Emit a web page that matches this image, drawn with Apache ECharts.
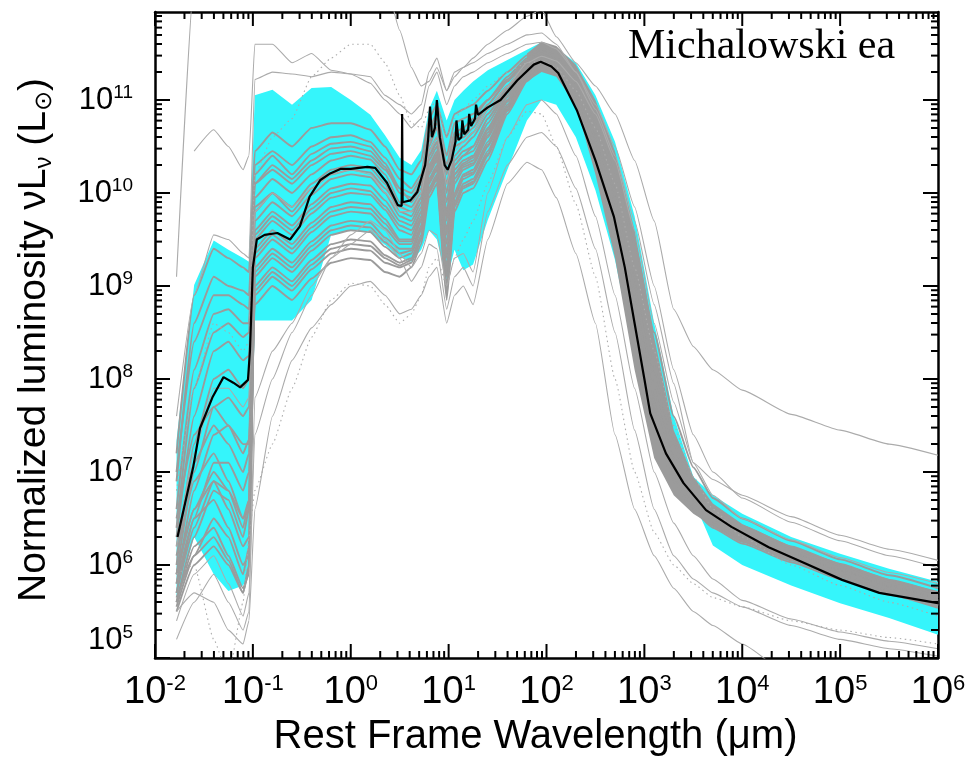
<!DOCTYPE html>
<html>
<head>
<meta charset="utf-8">
<title>Normalized SEDs</title>
<script src="https://cdn.jsdelivr.net/npm/echarts@6.0.0/dist/echarts.min.js"></script>
<style>
  html, body { margin: 0; padding: 0; background: #fff; }
  #chart { width: 976px; height: 762px; }
</style>
</head>
<body>
<div id="chart"></div>
<script>
// ---------------------------------------------------------------------------
// Values are stored as log10: wavelength in micron, luminosity in L_sun.
// ---------------------------------------------------------------------------

// Axis ranges (real units) and decade labels
const xRange = [0.01, 1e6];
const yRange = [1e5, 8.83e11];
const xTickExp = [-2, -1, 0, 1, 2, 3, 4, 5, 6];
const yTickExp = [5, 6, 7, 8, 9, 10, 11];

// Shared wavelength grid for the individual SED curves
const logLam = [-1.78, -1.6, -1.4, -1.25, -1.1, -1.04,
  -0.98, -0.8, -0.6, -0.4, -0.2, 0.0, 0.2, 0.35,
  0.5, 0.62, 0.72, 0.8, 0.88, 0.98, 1.06, 1.15, 1.25, 1.4,
  1.6, 1.8, 1.95, 2.1, 2.3, 2.5, 2.7, 2.9,
  3.1, 3.3, 3.5, 3.7, 4.0, 4.5, 5.0, 5.5, 6.0];

// Envelope of the template family (cyan)
const cyanUp = [7.34, 9.01, 9.49, 9.39, 9.30, 9.26,
  11.05, 11.11, 10.95, 11.13, 11.14, 11.0, 10.84, 10.62,
  10.38, 10.3, 10.46, 10.9, 11.1, 10.78, 11.0, 11.1, 11.2, 11.32,
  11.43, 11.54, 11.62, 11.56, 11.4, 11.05, 10.55, 9.75,
  8.6, 7.6, 6.95, 6.75, 6.55, 6.3, 6.12, 5.96, 5.82];
const cyanLow = [5.65, 6.3, 5.9, 5.72, 5.78, 5.9,
  8.63, 8.63, 8.63, 8.85, 9.55, 9.6, 9.57, 9.44,
  9.31, 9.26, 9.39, 9.6, 9.5, 9.06, 9.39, 9.17, 9.23, 9.71,
  10.25, 10.78, 11.0, 10.95, 10.6, 10.03, 9.28, 8.26,
  7.45, 6.97, 6.7, 6.21, 6.0, 5.78, 5.59, 5.43, 5.25];

// Dense core of the individual fits in the far-IR / radio
const coreLam = [1.8, 1.95, 2.1, 2.3, 2.5, 2.7, 2.9, 3.1, 3.3, 3.5, 3.7, 4.0, 4.5, 5.0, 5.5, 6.0];
const coreUp  = [11.5, 11.63, 11.58, 11.38, 11.0, 10.45, 9.6, 8.45, 7.45, 6.95, 6.66, 6.44, 6.2, 6.02, 5.85, 5.72];
const coreLow = [11.2, 11.3, 11.25, 10.95, 10.2, 9.3, 8.1, 7.15, 6.75, 6.55, 6.42, 6.26, 6.06, 5.87, 5.71, 5.56];

// Individual galaxy SEDs on logLam
const sed01 = [7.2, 8.9, 9.4, 9.3, 9.2, 9.15, 10.45, 10.65, 10.5, 10.7, 10.75, 10.75, 10.68, 10.5, 10.25, 10.2, 10.35, 10.8, 10.95, 10.6, 10.85, 10.9, 10.95, 11.1, 11.3, 11.48, 11.55, 11.5, 11.25, 10.85, 10.2, 9.45, 8.5, 7.6, 7.05, 6.72, 6.5, 6.26, 6.06, 5.89, 5.75];
const sed02 = [6.9, 8.6, 9.1, 9.0, 8.95, 8.9, 10.3, 10.45, 10.3, 10.5, 10.6, 10.62, 10.55, 10.38, 10.15, 10.05, 10.2, 10.7, 10.85, 10.4, 10.75, 10.8, 10.85, 11.0, 11.25, 11.45, 11.52, 11.45, 11.2, 10.75, 10.05, 9.2, 8.2, 7.4, 6.9, 6.62, 6.42, 6.2, 6.01, 5.84, 5.7];
const sed03 = [6.6, 8.1, 8.7, 8.75, 8.6, 8.6, 10.1, 10.3, 10.15, 10.35, 10.48, 10.5, 10.45, 10.28, 10.0, 9.95, 10.1, 10.6, 10.75, 10.2, 10.6, 10.65, 10.75, 10.95, 11.2, 11.42, 11.5, 11.42, 11.15, 10.7, 9.95, 9.05, 8.05, 7.3, 6.85, 6.6, 6.4, 6.18, 5.98, 5.8, 5.66];
const sed04 = [6.3, 7.6, 8.3, 8.4, 8.2, 8.25, 9.95, 10.15, 10.0, 10.2, 10.35, 10.4, 10.36, 10.2, 9.9, 9.85, 10.0, 10.5, 10.7, 10.1, 10.5, 10.55, 10.65, 10.9, 11.15, 11.4, 11.48, 11.4, 11.1, 10.6, 9.85, 8.9, 7.9, 7.15, 6.75, 6.53, 6.35, 6.14, 5.95, 5.78, 5.64];
const sed05 = [6.0, 7.3, 8.0, 8.1, 7.9, 8.0, 9.85, 10.0, 9.85, 10.1, 10.25, 10.3, 10.27, 10.1, 9.8, 9.75, 9.95, 10.45, 10.6, 9.9, 10.4, 10.5, 10.6, 10.85, 11.12, 11.38, 11.46, 11.38, 11.05, 10.5, 9.7, 8.7, 7.7, 7.05, 6.7, 6.5, 6.32, 6.12, 5.93, 5.76, 5.62];
const sed06 = [5.9, 7.0, 7.7, 7.8, 7.6, 7.7, 9.7, 9.9, 9.75, 9.98, 10.15, 10.2, 10.17, 10.0, 9.75, 9.7, 9.9, 10.4, 10.55, 9.8, 10.35, 10.45, 10.5, 10.8, 11.1, 11.36, 11.45, 11.38, 11.08, 10.55, 9.75, 8.75, 7.75, 7.05, 6.68, 6.48, 6.3, 6.1, 5.91, 5.74, 5.6];
const sed07 = [5.8, 6.8, 7.4, 7.5, 7.2, 7.35, 9.6, 9.8, 9.65, 9.88, 10.05, 10.1, 10.08, 9.92, 9.7, 9.65, 9.85, 10.35, 10.5, 9.75, 10.3, 10.4, 10.45, 10.75, 11.08, 11.35, 11.44, 11.38, 11.1, 10.6, 9.85, 8.9, 7.9, 7.15, 6.75, 6.52, 6.33, 6.12, 5.93, 5.76, 5.62];
const sed08 = [5.7, 6.5, 7.1, 7.1, 6.8, 7.0, 9.5, 9.7, 9.55, 9.78, 9.95, 10.0, 9.98, 9.82, 9.6, 9.55, 9.8, 10.3, 10.45, 9.6, 10.25, 10.35, 10.4, 10.7, 11.05, 11.33, 11.43, 11.36, 11.05, 10.5, 9.7, 8.7, 7.7, 7.0, 6.66, 6.46, 6.28, 6.08, 5.89, 5.72, 5.58];
const sed09 = [5.6, 6.3, 6.8, 6.7, 6.3, 6.6, 9.4, 9.6, 9.45, 9.68, 9.85, 9.9, 9.88, 9.72, 9.5, 9.5, 9.75, 10.25, 10.4, 9.45, 10.2, 10.3, 10.35, 10.65, 11.0, 11.3, 11.42, 11.36, 11.08, 10.6, 9.85, 8.95, 7.95, 7.2, 6.8, 6.56, 6.36, 6.15, 5.96, 5.79, 5.65];
const sed10 = [5.55, 6.1, 6.5, 6.3, 5.9, 6.2, 9.3, 9.5, 9.35, 9.58, 9.75, 9.8, 9.78, 9.62, 9.45, 9.45, 9.7, 10.2, 10.35, 9.3, 10.1, 10.25, 10.3, 10.6, 10.98, 11.28, 11.4, 11.33, 11.02, 10.45, 9.6, 8.55, 7.6, 6.95, 6.62, 6.43, 6.26, 6.06, 5.88, 5.71, 5.57];
const sed11 = [5.5, 6.0, 6.2, 6.0, 5.7, 6.0, 9.2, 9.4, 9.25, 9.48, 9.65, 9.7, 9.68, 9.52, 9.4, 9.4, 9.65, 10.15, 10.3, 9.2, 10.0, 10.2, 10.25, 10.55, 10.95, 11.27, 11.4, 11.35, 11.06, 10.55, 9.75, 8.8, 7.8, 7.1, 6.72, 6.5, 6.32, 6.11, 5.92, 5.75, 5.61];
const sed12 = [5.6, 6.2, 6.4, 6.1, 5.75, 5.9, 9.1, 9.3, 9.15, 9.38, 9.55, 9.6, 9.58, 9.42, 9.3, 9.35, 9.6, 10.1, 10.25, 9.1, 9.95, 10.15, 10.2, 10.5, 10.92, 11.25, 11.38, 11.3, 10.98, 10.4, 9.55, 8.5, 7.55, 6.93, 6.6, 6.42, 6.25, 6.05, 5.87, 5.7, 5.56];
const sed13 = [5.8, 6.5, 6.7, 6.4, 6.0, 6.1, 9.0, 9.2, 9.05, 9.28, 9.45, 9.5, 9.48, 9.33, 9.25, 9.3, 9.55, 10.05, 10.2, 9.0, 9.9, 10.1, 10.15, 10.45, 10.9, 11.23, 11.37, 11.32, 11.04, 10.5, 9.7, 8.75, 7.75, 7.05, 6.7, 6.48, 6.3, 6.09, 5.9, 5.73, 5.59];
const sed14 = [6.1, 6.9, 7.2, 6.9, 6.5, 6.6, 8.9, 9.1, 8.95, 9.18, 9.35, 9.4, 9.38, 9.25, 9.2, 9.25, 9.5, 10.0, 10.15, 8.9, 9.85, 10.05, 10.1, 10.4, 10.88, 11.22, 11.36, 11.28, 10.95, 10.38, 9.5, 8.45, 7.5, 6.9, 6.58, 6.4, 6.23, 6.03, 5.85, 5.68, 5.54];
const sed15 = [6.5, 7.4, 7.7, 7.5, 7.3, 7.3, 8.8, 9.0, 8.85, 9.08, 9.25, 9.3, 9.28, 9.15, 9.1, 9.2, 9.45, 9.95, 10.1, 8.85, 9.8, 10.0, 10.05, 10.35, 10.85, 11.2, 11.35, 11.3, 11.0, 10.45, 9.65, 8.65, 7.65, 7.0, 6.66, 6.45, 6.28, 6.07, 5.88, 5.71, 5.57];
const sed16 = [7.0, 8.4, 8.9, 8.9, 8.8, 8.75, 10.1, 10.25, 10.1, 10.3, 10.42, 10.45, 10.4, 10.25, 10.05, 10.0, 10.15, 10.65, 10.8, 10.3, 10.65, 10.7, 10.8, 11.0, 11.22, 11.43, 11.52, 11.46, 11.18, 10.72, 10.0, 9.1, 8.1, 7.35, 6.88, 6.6, 6.4, 6.18, 5.99, 5.82, 5.68];
const sed17 = [6.4, 7.9, 8.5, 8.6, 8.45, 8.5, 10.2, 10.4, 10.2, 10.42, 10.53, 10.55, 10.5, 10.32, 10.05, 9.9, 10.05, 10.55, 10.7, 10.0, 10.55, 10.6, 10.7, 10.95, 11.2, 11.42, 11.5, 11.42, 11.15, 10.65, 9.9, 8.95, 7.95, 7.2, 6.8, 6.56, 6.37, 6.16, 5.97, 5.8, 5.66];
const sed18 = [6.2, 7.1, 7.5, 7.3, 7.0, 7.2, 9.8, 10.0, 9.8, 10.05, 10.2, 10.25, 10.22, 10.05, 9.85, 9.8, 9.95, 10.4, 10.55, 9.7, 10.3, 10.4, 10.5, 10.8, 11.1, 11.37, 11.45, 11.37, 11.06, 10.52, 9.72, 8.72, 7.72, 7.03, 6.68, 6.48, 6.3, 6.1, 5.91, 5.74, 5.6];
const sed19 = [5.9, 6.6, 7.0, 6.8, 6.4, 6.7, 9.55, 9.75, 9.6, 9.83, 10.0, 10.05, 10.02, 9.86, 9.65, 9.6, 9.8, 10.28, 10.42, 9.55, 10.2, 10.32, 10.38, 10.68, 11.03, 11.32, 11.42, 11.35, 11.05, 10.52, 9.72, 8.72, 7.72, 7.02, 6.67, 6.47, 6.29, 6.09, 5.9, 5.73, 5.59];
const sed20 = [5.7, 6.4, 6.9, 6.8, 6.5, 6.7, 9.35, 9.55, 9.4, 9.63, 9.8, 9.85, 9.83, 9.67, 9.48, 9.48, 9.72, 10.22, 10.37, 9.35, 10.15, 10.28, 10.32, 10.62, 10.99, 11.29, 11.41, 11.35, 11.06, 10.55, 9.78, 8.82, 7.82, 7.1, 6.72, 6.5, 6.32, 6.11, 5.92, 5.75, 5.61];
const sed21 = [5.65, 6.1, 6.3, 6.05, 5.7, 5.95, 9.15, 9.35, 9.2, 9.43, 9.6, 9.65, 9.63, 9.47, 9.35, 9.38, 9.62, 10.12, 10.27, 9.15, 9.98, 10.18, 10.22, 10.52, 10.93, 11.26, 11.39, 11.32, 11.0, 10.42, 9.58, 8.55, 7.6, 6.95, 6.62, 6.43, 6.26, 6.06, 5.88, 5.71, 5.57];
const sed22 = [5.9, 6.6, 6.9, 6.6, 6.2, 6.3, 8.95, 9.15, 9.0, 9.23, 9.4, 9.45, 9.43, 9.3, 9.22, 9.28, 9.52, 10.02, 10.17, 8.95, 9.87, 10.07, 10.12, 10.42, 10.89, 11.22, 11.36, 11.3, 11.0, 10.45, 9.62, 8.6, 7.62, 6.97, 6.64, 6.44, 6.27, 6.06, 5.87, 5.7, 5.56];

// Fits lying outside the main family
const sedHigh1 = [9.1, 12.3, 12.5, 12.5, 12.5, 12.5, 12.5, 12.5, 12.5, 12.5, 12.5, 12.5, 12.5, 12.3, 11.75, 11.35, 11.15, 11.2, 11.35, 11.1, 11.25, 11.35, 11.45, 11.6, 11.75, 11.9, 11.97, 11.68, 11.4, 11.15, 10.85, 10.35, 9.7, 8.75, 8.35, 8.1, 7.88, 7.62, 7.45, 7.3, 7.18];
const sedHigh2 = [6.2, 7.2, 7.9, 7.9, 7.7, 7.8, 9.8, 10.0, 9.85, 10.05, 10.2, 10.25, 10.2, 10.0, 9.8, 9.8, 10.0, 10.45, 10.6, 10.1, 10.45, 10.55, 10.65, 10.9, 11.15, 11.4, 11.47, 11.42, 11.2, 10.85, 10.35, 9.6, 8.6, 7.75, 7.1, 6.92, 6.75, 6.52, 6.32, 6.17, 6.05];
const sedHigh3 = [null, 10.45, 10.68, 10.5, 10.25, 10.4, 11.6, 11.6, 11.4, 11.5, 11.32, 11.28, 11.25, 11.05, 10.95, 10.85, 10.95, 11.3, 11.45, 11.1, 11.3, 11.35, 11.4, 11.5, 11.6, 11.7, 11.72, 11.6, 11.3, 10.9, 10.4, 9.7, 8.8, 7.95, 7.1, 6.75, 6.5, 6.27, 6.08, 5.92, 5.8];
const sedHigh4 = [7.6, 8.9, 9.55, 9.5, 9.35, 9.3, 11.22, 11.3, 11.28, 11.25, 11.3, 11.28, 11.18, 11.0, 10.85, 10.7, 10.8, 11.15, 11.3, 10.95, 11.15, 11.25, 11.3, 11.4, 11.5, 11.6, 11.62, 11.55, 11.3, 10.95, 10.5, 9.85, 9.0, 8.1, 7.4, 7.0, 6.72, 6.46, 6.26, 6.1, 5.97];
const sedLow1 = [5.5, 5.7, 5.6, 5.3, 5.15, 5.4, 6.6, 7.6, 8.2, 8.55, 8.8, 9.0, 9.05, 8.9, 8.7, 8.75, 8.9, 9.1, 9.2, 8.6, 8.9, 9.0, 8.8, 9.5, 10.1, 10.33, 10.25, 9.95, 9.35, 8.6, 7.4, 6.6, 6.1, 5.75, 5.5, 5.35, 5.15, 4.8, 4.6, 4.5, 4.4];
const sedLow2 = [5.2, 5.6, 5.9, 5.6, 5.3, 5.5, 7.8, 8.3, 8.6, 9.0, 9.3, 9.45, 9.6, 9.5, 9.3, 9.05, 9.2, 9.45, 9.4, 8.75, 9.1, 9.2, 9.0, 9.8, 10.3, 10.6, 10.65, 10.5, 10.05, 9.4, 8.5, 7.45, 6.6, 6.1, 5.85, 5.7, 5.55, 5.35, 5.2, 5.1, 5.02];
const sedLow3 = [5.4, 5.9, 6.1, 5.8, 5.45, 5.7, 7.4, 8.0, 8.5, 8.9, 9.3, 9.55, 9.7, 9.6, 9.35, 9.2, 9.35, 9.6, 9.55, 9.0, 9.3, 9.35, 9.15, 10.0, 10.6, 10.95, 11.0, 10.85, 10.4, 9.75, 8.9, 7.9, 7.0, 6.45, 6.1, 5.85, 5.62, 5.42, 5.28, 5.18, 5.1];

// Fits drawn dotted
const sedDot1 = [5.9, 6.0, 5.2, 4.8, 5.6, 6.3, 6.8, 7.3, 7.9, 8.45, 8.85, 9.03, 9.0, 8.8, 8.6, 8.7, 8.9, 9.2, 9.3, 9.0, 9.3, 9.5, 9.7, 10.1, 10.6, 10.88, 10.85, 10.5, 9.88, 9.1, 8.0, 7.0, 6.35, 6.0, 5.8, 5.65, 5.55, 5.4, 5.3, 5.22, 5.15];
const sedDot2 = [6.8, 7.9, 8.6, 8.5, 8.3, 8.4, 10.2, 10.6, 10.8, 11.25, 11.45, 11.6, 11.6, 11.4, 11.05, 10.75, 10.7, 10.9, 11.0, 10.6, 10.8, 10.9, 11.0, 11.15, 11.3, 11.4, 11.42, 11.35, 11.1, 10.7, 10.1, 9.2, 8.3, 7.5, 6.95, 6.6, 6.3, 6.0, 5.78, 5.6, 5.45];

// Average template (black)
const avgLam = [-1.77, -1.61, -1.54, -1.41, -1.30, -1.20, -1.13, -1.05, -1.03, -1.0, -0.96, -0.88, -0.75, -0.62, -0.52, -0.42, -0.31, -0.21, -0.1, 0.0, 0.17, 0.25, 0.37, 0.48, 0.52, 0.525, 0.53, 0.61, 0.68, 0.76, 0.79, 0.81, 0.83, 0.86, 0.88, 0.91, 0.96, 0.99, 1.03, 1.07, 1.08, 1.10, 1.13, 1.14, 1.16, 1.20, 1.21, 1.23, 1.27, 1.28, 1.30, 1.40, 1.53, 1.70, 1.87, 1.94, 2.05, 2.12, 2.31, 2.50, 2.69, 2.80, 2.90, 3.00, 3.06, 3.22, 3.40, 3.63, 3.89, 4.27, 4.64, 5.02, 5.40, 6.0];
const avgLum = [6.30, 7.05, 7.47, 7.81, 8.02, 7.96, 7.91, 7.99, 8.3, 9.2, 9.5, 9.55, 9.57, 9.50, 9.64, 9.96, 10.14, 10.21, 10.26, 10.26, 10.28, 10.27, 10.11, 9.87, 9.86, 10.85, 9.9, 9.92, 10.01, 10.3, 10.57, 10.93, 10.6, 10.7, 11.0, 10.6, 10.3, 10.25, 10.35, 10.55, 10.78, 10.57, 10.6, 10.78, 10.63, 10.68, 10.85, 10.72, 10.8, 10.95, 10.84, 10.92, 11.0, 11.21, 11.38, 11.41, 11.36, 11.29, 10.89, 10.35, 9.74, 9.2, 8.6, 8.0, 7.63, 7.2, 6.88, 6.59, 6.41, 6.19, 6.02, 5.84, 5.70, 5.59];

// ---------------------------------------------------------------------------
const SANS = "'Liberation Sans', Arial, Helvetica, sans-serif";
const GREY = '#9b9b9b';
const GRID = { left: 155, top: 12, width: 783, height: 646 };
const pow10 = v => (v == null ? null : Math.pow(10, v));

function curvePoints(xs, ys) {
  return xs.map((x, i) => [pow10(x), pow10(ys[i])]);
}

// Filled band between two curves, placed through the cartesian coordinate system
function bandSeries(xs, up, low, color, z) {
  return {
    type: 'custom', coordinateSystem: 'cartesian2d', xAxisIndex: 0, yAxisIndex: 0,
    silent: true, z: z, animation: false,
    data: [[1, 1e8]],
    renderItem: function (params, api) {
      const pts = [];
      for (let i = 0; i < xs.length; i++) pts.push(api.coord([pow10(xs[i]), pow10(up[i])]));
      for (let i = xs.length - 1; i >= 0; i--) pts.push(api.coord([pow10(xs[i]), pow10(low[i])]));
      return { type: 'polygon', shape: { points: pts }, style: { fill: color, stroke: null } };
    }
  };
}

function lineSeries(xs, ys, style, z, smooth) {
  return {
    type: 'line', xAxisIndex: 0, yAxisIndex: 0, data: curvePoints(xs, ys),
    showSymbol: false, symbol: 'none', silent: true, z: z, animation: false,
    smooth: smooth, smoothMonotone: 'x', clip: true,
    lineStyle: style, emphasis: { disabled: true }
  };
}

// Decade tick positions; minor ticks at 2..9 x 10^n, each with its length in px
const xMajor = xTickExp.map(e => Math.pow(10, e));
const yMajor = yTickExp.map(e => Math.pow(10, e));
const xTickSet = [], yTickSet = [];
for (let e = xTickExp[0]; e <= xTickExp[xTickExp.length - 1]; e++) {
  xTickSet.push([Math.pow(10, e), 14]);
  if (e < xTickExp[xTickExp.length - 1])
    for (let k = 2; k <= 9; k++) xTickSet.push([k * Math.pow(10, e), 7]);
}
for (let e = yTickExp[0]; e <= yTickExp[yTickExp.length - 1]; e++) {
  yTickSet.push([Math.pow(10, e), 15]);
  for (let k = 2; k <= 9; k++) if (k * Math.pow(10, e) < yRange[1]) yTickSet.push([k * Math.pow(10, e), 7]);
}

function powLabel(v) {
  const e = Math.round(Math.log10(v));
  return '{b|10}{s|' + (e < 0 ? '-' + (-e) : String(e)) + '}';
}
function powLabelY(v) {
  const e = Math.round(Math.log10(v));
  // the lowest decade label sits raised above the bottom frame
  return e === 5 ? '{b|10}{s|5}\n{g| }' : powLabel(v);
}

const frameLine = { show: true, onZero: false, lineStyle: { color: '#000', width: 2.5 } };

function axisDef(dim, position, extra) {
  const range = dim === 'x' ? xRange : yRange;
  const a = {
    type: 'log', logBase: 10, min: range[0], max: range[1], position: position,
    axisLine: frameLine,
    axisTick: { show: false },
    axisLabel: { show: false },
    splitLine: { show: false }, minorTick: { show: false }, minorSplitLine: { show: false },
    axisPointer: { show: false }
  };
  if (extra) Object.assign(a, extra);
  return a;
}

const xLabelled = {
  axisLabel: {
    show: true, customValues: xMajor, margin: 15, formatter: powLabel, color: '#000',
    rich: {
      b: { fontFamily: SANS, fontSize: 38, lineHeight: 40, color: '#000' },
      s: { fontFamily: SANS, fontSize: 22, lineHeight: 28, verticalAlign: 'top', color: '#000' }
    }
  },
  name: 'Rest Frame Wavelength (\u03bcm)', nameLocation: 'middle', nameGap: 58,
  nameTextStyle: { fontFamily: SANS, fontSize: 40, color: '#000', padding: [0, 22, 0, 0] }
};

const yLabelled = {
  axisLabel: {
    show: true, customValues: yMajor, margin: 22, formatter: powLabelY, color: '#000',
    rich: {
      b: { fontFamily: SANS, fontSize: 31, lineHeight: 34, color: '#000' },
      s: { fontFamily: SANS, fontSize: 19, lineHeight: 24, verticalAlign: 'top', color: '#000' },
      g: { fontSize: 2, lineHeight: 36 }
    }
  },
  name: 'Normalized luminosity \u03bd{t|L}{u|\u03bd} ({t|L}{u|\u2299})', nameLocation: 'middle', nameGap: 99,
  nameTextStyle: {
    fontFamily: SANS, fontSize: 39, color: '#000', padding: [0, 10, 0, 0],
    rich: {
      t: { fontFamily: SANS, fontSize: 39, lineHeight: 44, color: '#000' },
      u: { fontFamily: SANS, fontSize: 24, lineHeight: 20, verticalAlign: 'bottom', color: '#000' }
    }
  }
};

const bulk = [sed01, sed02, sed03, sed04, sed05, sed06, sed07, sed08, sed09, sed10, sed11,
  sed12, sed13, sed14, sed15, sed16, sed17, sed18, sed19, sed20, sed21, sed22];
const outliers = [sedHigh1, sedHigh2, sedHigh3, sedHigh4, sedLow1, sedLow2, sedLow3];
const dotted = [sedDot1, sedDot2];

const series = [];
series.push(bandSeries(logLam, cyanUp, cyanLow, '#35f5fb', 1));
series.push(bandSeries(coreLam, coreUp, coreLow, GREY, 2));
bulk.forEach(ys => series.push(lineSeries(logLam, ys, { color: GREY, width: 1.9 }, 3, 0.15)));
outliers.forEach(ys => series.push(lineSeries(logLam, ys, { color: '#ababab', width: 1.1 }, 3, 0.15)));
dotted.forEach(ys => series.push(lineSeries(logLam, ys, { color: '#ababab', width: 1.1, type: [1.5, 3.5] }, 3, 0.15)));
series.push(lineSeries(avgLam, avgLum, { color: '#000', width: 2.2 }, 4, false));

const chart = echarts.init(document.getElementById('chart'), null, { renderer: 'canvas' });
chart.setOption({
  animation: false,
  backgroundColor: '#fff',
  grid: Object.assign({ containLabel: false }, GRID),
  xAxis: [axisDef('x', 'bottom', xLabelled), axisDef('x', 'top')],
  yAxis: [axisDef('y', 'left', yLabelled), axisDef('y', 'right')],
  series: series
});

// Title text and inward frame ticks, positioned with the chart's own axis conversion
const overlay = [{
  type: 'text', id: 'title', x: 628, y: 47, z: 60,
  style: { text: 'Michalowski ea', fontFamily: "'Liberation Serif', 'Times New Roman', serif", fontSize: 42, fill: '#000', align: 'left', verticalAlign: 'middle' }
}];
const tickStyle = { stroke: '#000', lineWidth: 2 };
const toPx = v => chart.convertToPixel({ gridIndex: 0 }, v);
xTickSet.forEach((t, i) => {
  const b = toPx([t[0], yRange[0]]);
  const u = toPx([t[0], yRange[1]]);
  overlay.push({ type: 'line', id: 'xb' + i, z: 50, silent: true, shape: { x1: b[0], y1: b[1], x2: b[0], y2: b[1] - t[1] }, style: tickStyle });
  overlay.push({ type: 'line', id: 'xt' + i, z: 50, silent: true, shape: { x1: u[0], y1: u[1], x2: u[0], y2: u[1] + t[1] }, style: tickStyle });
});
yTickSet.forEach((t, i) => {
  const l = toPx([xRange[0], t[0]]);
  const r = toPx([xRange[1], t[0]]);
  overlay.push({ type: 'line', id: 'yl' + i, z: 50, silent: true, shape: { x1: l[0], y1: l[1], x2: l[0] + t[1], y2: l[1] }, style: tickStyle });
  overlay.push({ type: 'line', id: 'yr' + i, z: 50, silent: true, shape: { x1: r[0], y1: r[1], x2: r[0] - t[1], y2: r[1] }, style: tickStyle });
});
chart.setOption({ graphic: overlay });
</script>
</body>
</html>
